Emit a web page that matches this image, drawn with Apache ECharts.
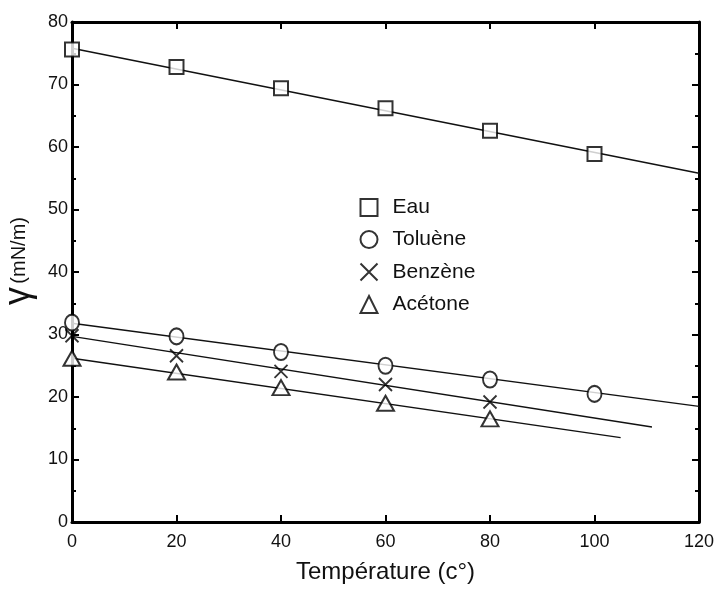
<!DOCTYPE html>
<html>
<head>
<meta charset="utf-8">
<script src="https://cdn.jsdelivr.net/npm/echarts@6/dist/echarts.min.js"></script>
<style>
  html, body { margin: 0; padding: 0; background: #fff; }
  #chart { width: 716px; height: 589px; }
</style>
</head>
<body>
<div id="chart"></div>
<script>
// temperatures (°C)
var temps = [0, 20, 40, 60, 80, 100]
var eau = [75.6, 72.8, 69.4, 66.2, 62.6, 58.9]
var toluene = [31.9, 29.7, 27.2, 25.0, 22.8, 20.5]
var benzene = [29.8, 26.6, 24.1, 22.0, 19.2]
var acetone = [26.2, 24.0, 21.5, 19.0, 16.5]

// fitted lines: [x, y] end points
var eauFit = [[0, 75.8], [120, 55.8]]
var tolueneFit = [[0, 31.8], [120, 18.5]]
var benzeneFit = [[0, 29.7], [111, 15.2]]
var acetoneFit = [[0, 26.2], [105, 13.5]]

var xTicks = [0, 20, 40, 60, 80, 100, 120]
var yTicks = [0, 10, 20, 30, 40, 50, 60, 70, 80]

var font = 'Liberation Sans, Arial, sans-serif'
var crossPath = 'path://M0,0L10,10M10,0L0,10'

function pairs(vals) {
    return vals.map(function (v, i) { return [temps[i], v] })
}

var markStyle = { color: '#fff', borderColor: '#000', borderWidth: 2 }
var crossStyle = { color: 'none', borderColor: '#000', borderWidth: 1.8 }

function fitLine(d) {
    return {
        type: 'line', data: d, symbol: 'none', silent: true,
        lineStyle: { color: '#111', width: 1.5 }, z: 1
    }
}

var dom = echarts.init(document.getElementById('chart'))
dom.setOption({
    animation: false,
    backgroundColor: '#fff',
    grid: { left: 72, right: 17, top: 22, bottom: 67, containLabel: false, outerBoundsMode: 'none' },
    legend: {
        orient: 'vertical',
        left: 353, top: 192,
        itemGap: 11,
        itemWidth: 17, itemHeight: 17,
        textStyle: { fontFamily: font, fontSize: 21, lineHeight: 21, color: '#111', padding: [0, 0, 0, 10] },
        data: [
            { name: 'Eau', icon: 'rect' },
            { name: 'Toluène', icon: 'circle' },
            { name: 'Benzène', icon: crossPath },
            { name: 'Acétone', icon: 'triangle' }
        ]
    },
    xAxis: [{
        type: 'value', min: 0, max: 120, interval: 20,
        name: 'Température (c°)', nameLocation: 'middle', nameGap: 38,
        nameTextStyle: { fontFamily: font, fontSize: 24, color: '#111' },
        axisLine: { onZero: false, lineStyle: { color: '#000', width: 3 } },
        axisTick: { inside: true, length: 7, lineStyle: { color: '#000', width: 2 } },
        axisLabel: {
            fontFamily: font, fontSize: 18, color: '#111', margin: 11,
            formatter: function (v) { return xTicks.indexOf(v) >= 0 ? v : '' }
        },
        splitLine: { show: false }
    }, {
        type: 'value', min: 0, max: 120, interval: 20, position: 'top',
        axisLine: { onZero: false, lineStyle: { color: '#000', width: 3 } },
        axisTick: { inside: true, length: 7, lineStyle: { color: '#000', width: 2 } },
        axisLabel: { show: false },
        splitLine: { show: false }
    }],
    yAxis: [{
        type: 'value', min: 0, max: 80, interval: 10,
        name: '{g|γ} {u|(mN/m)}', nameLocation: 'middle', nameGap: 34,
        nameTextStyle: {
            fontFamily: font, color: '#111', padding: [0, 0, 0, 22],
            rich: {
                g: { fontFamily: font, fontSize: 36, color: '#111' },
                u: { fontFamily: font, fontSize: 20, color: '#111' }
            }
        },
        axisLine: { onZero: false, lineStyle: { color: '#000', width: 3 } },
        axisTick: { inside: true, length: 7, lineStyle: { color: '#000', width: 2 } },
        minorTick: { show: true, splitNumber: 2, length: 4, lineStyle: { color: '#000', width: 2 } },
        axisLabel: {
            fontFamily: font, fontSize: 18, color: '#111', margin: 4,
            formatter: function (v) { return yTicks.indexOf(v) >= 0 ? v : '' }
        },
        splitLine: { show: false }
    }, {
        type: 'value', min: 0, max: 80, interval: 10, position: 'right',
        axisLine: { onZero: false, lineStyle: { color: '#000', width: 3 } },
        axisTick: { inside: true, length: 7, lineStyle: { color: '#000', width: 2 } },
        minorTick: { show: true, splitNumber: 2, length: 4, lineStyle: { color: '#000', width: 2 } },
        axisLabel: { show: false },
        splitLine: { show: false }
    }],
    series: [
        fitLine(eauFit),
        fitLine(tolueneFit),
        fitLine(benzeneFit),
        fitLine(acetoneFit),
        { name: 'Eau', type: 'scatter', data: pairs(eau), symbol: 'rect', symbolSize: 14, itemStyle: markStyle, z: 3 },
        { name: 'Toluène', type: 'scatter', data: pairs(toluene), symbol: 'circle', symbolSize: [14, 16], itemStyle: markStyle, z: 3 },
        { name: 'Benzène', type: 'scatter', data: pairs(benzene), symbol: crossPath, symbolSize: 13, itemStyle: crossStyle, z: 3 },
        { name: 'Acétone', type: 'scatter', data: pairs(acetone), symbol: 'triangle', symbolSize: [17, 15], itemStyle: markStyle, z: 3 }
    ]
})
</script>
</body>
</html>
